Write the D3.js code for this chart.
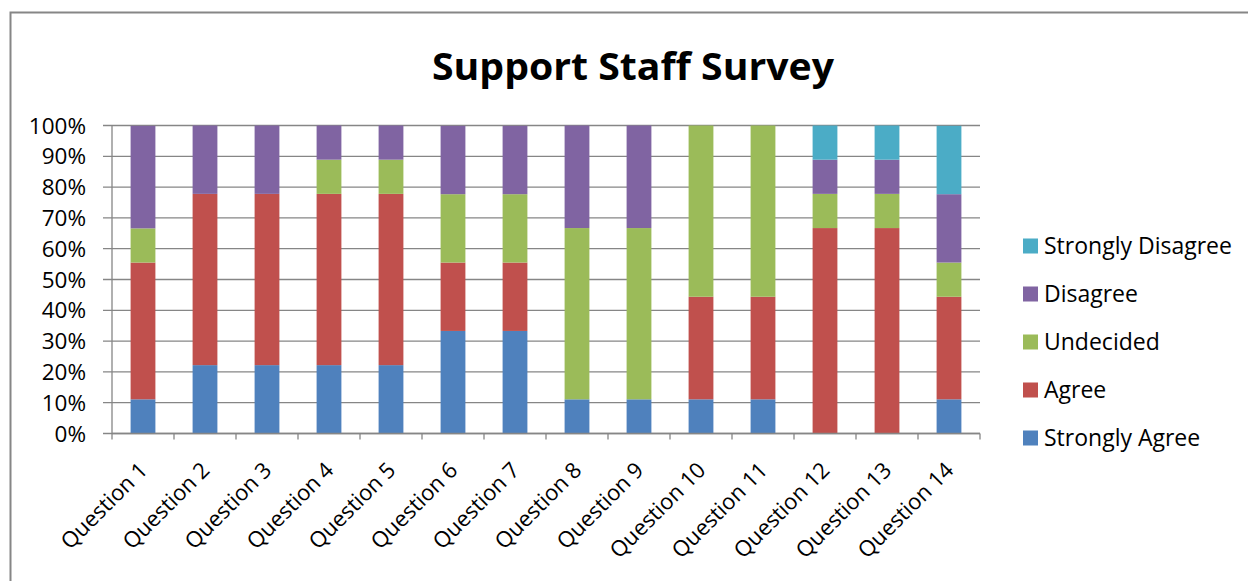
<!DOCTYPE html>
<html>
<head>
<meta charset="utf-8">
<script src="https://cdn.jsdelivr.net/npm/d3@7"></script>
<style>
  html, body { margin: 0; padding: 0; background: #fff; }
  svg { display: block; }
  text { font-family: "Open Sans", Lato, sans-serif; fill: #000; }
</style>
</head>
<body>
<svg id="chart" width="1248" height="581"></svg>
<script>
// Survey responses (% of respondents) per question
const categories = ["Question 1","Question 2","Question 3","Question 4","Question 5","Question 6","Question 7",
                    "Question 8","Question 9","Question 10","Question 11","Question 12","Question 13","Question 14"];
const seriesNames = ["Strongly Agree","Agree","Undecided","Disagree","Strongly Disagree"];
const stronglyAgree    = [11.1, 22.2, 22.2, 22.2, 22.2, 33.3, 33.3, 11.1, 11.1, 11.1, 11.1,  0.0,  0.0, 11.1];
const agree            = [44.4, 55.6, 55.6, 55.6, 55.6, 22.2, 22.2,  0.0,  0.0, 33.3, 33.3, 66.7, 66.7, 33.3];
const undecided        = [11.1,  0.0,  0.0, 11.1, 11.1, 22.2, 22.2, 55.6, 55.6, 55.6, 55.6, 11.1, 11.1, 11.1];
const disagree         = [33.3, 22.2, 22.2, 11.1, 11.1, 22.2, 22.2, 33.3, 33.3,  0.0,  0.0, 11.1, 11.1, 22.2];
const stronglyDisagree = [ 0.0,  0.0,  0.0,  0.0,  0.0,  0.0,  0.0,  0.0,  0.0,  0.0,  0.0, 11.1, 11.1, 22.2];
const yTicks = [0, 10, 20, 30, 40, 50, 60, 70, 80, 90, 100];
const colors = ["#4F81BD", "#C0504D", "#9BBB59", "#8064A2", "#4BACC6"];

const seriesValues = [stronglyAgree, agree, undecided, disagree, stronglyDisagree];
const rows = categories.map((c, i) => {
  const r = { category: c };
  seriesNames.forEach((s, k) => { r[s] = seriesValues[k][i]; });
  return r;
});

const svg = d3.select("#chart");
const axisColor = "#868686";

// chart frame
svg.append("rect")
  .attr("x", 10.5).attr("y", 12.5).attr("width", 1260).attr("height", 600)
  .attr("fill", "none").attr("stroke", axisColor).attr("stroke-width", 2);

const plot = { left: 112, right: 980, top: 125.5, bottom: 433.5 };

const x = d3.scaleBand().domain(categories).range([plot.left, plot.right]).paddingInner(0.6).paddingOuter(0.3);
const y = d3.scaleLinear().domain([0, 100]).range([plot.bottom, plot.top]);

// title
svg.append("text")
  .attr("x", 633).attr("y", 80)
  .attr("text-anchor", "middle")
  .attr("font-size", 38).attr("font-weight", "bold")
  .attr("textLength", 402).attr("lengthAdjust", "spacingAndGlyphs")
  .text("Support Staff Survey");

// gridlines (with short tick stubs left of the axis)
svg.append("g").selectAll("line").data(yTicks).join("line")
  .attr("x1", plot.left - 9).attr("x2", plot.right)
  .attr("y1", d => y(d)).attr("y2", d => y(d))
  .attr("stroke", axisColor).attr("stroke-width", 1.3);

// y axis labels
svg.append("g").selectAll("text").data(yTicks).join("text")
  .attr("x", 86).attr("y", d => y(d))
  .attr("dy", "0.36em")
  .attr("text-anchor", "end")
  .attr("font-size", 22.5)
  .text(d => d + "%");

// stacked bars
const stack = d3.stack().keys(seriesNames);
const layers = stack(rows);
svg.append("g").selectAll("g").data(layers).join("g")
  .attr("fill", (d, i) => colors[i])
  .selectAll("rect").data(d => d).join("rect")
  .attr("x", d => x(d.data.category))
  .attr("width", x.bandwidth())
  .attr("y", d => y(d[1]))
  .attr("height", d => y(d[0]) - y(d[1]));

// axes lines
svg.append("line")
  .attr("x1", plot.left).attr("x2", plot.left)
  .attr("y1", plot.top).attr("y2", plot.bottom)
  .attr("stroke", axisColor).attr("stroke-width", 1.3);
svg.append("line")
  .attr("x1", plot.left).attr("x2", plot.right)
  .attr("y1", plot.bottom).attr("y2", plot.bottom)
  .attr("stroke", axisColor).attr("stroke-width", 1.3);

// category tick marks at band boundaries
const step = (plot.right - plot.left) / categories.length;
const boundaries = d3.range(categories.length + 1).map(i => plot.left + i * step);
svg.append("g").selectAll("line").data(boundaries).join("line")
  .attr("x1", d => d).attr("x2", d => d)
  .attr("y1", plot.bottom).attr("y2", plot.bottom + 6)
  .attr("stroke", axisColor).attr("stroke-width", 1.3);

// rotated category labels, baseline ending just below each tick centre
svg.append("g").selectAll("text").data(categories).join("text")
  .attr("transform", d => `translate(${x(d) + x.bandwidth() / 2 + 6},${plot.bottom + 38}) rotate(-45)`)
  .attr("text-anchor", "end")
  .attr("font-size", 22)
  .text(d => d);

// legend
const legendOrder = seriesNames.map((s, i) => i).reverse();
const legend = svg.append("g").selectAll("g").data(legendOrder).join("g")
  .attr("transform", (d, i) => `translate(1023,${246 + i * 48})`);
legend.append("rect")
  .attr("x", 0).attr("y", -7.5).attr("width", 15).attr("height", 15)
  .attr("fill", d => colors[d]);
legend.append("text")
  .attr("x", 21).attr("y", 0).attr("dy", "0.36em")
  .attr("font-size", 23)
  .text(d => seriesNames[d]);
</script>
</body>
</html>
